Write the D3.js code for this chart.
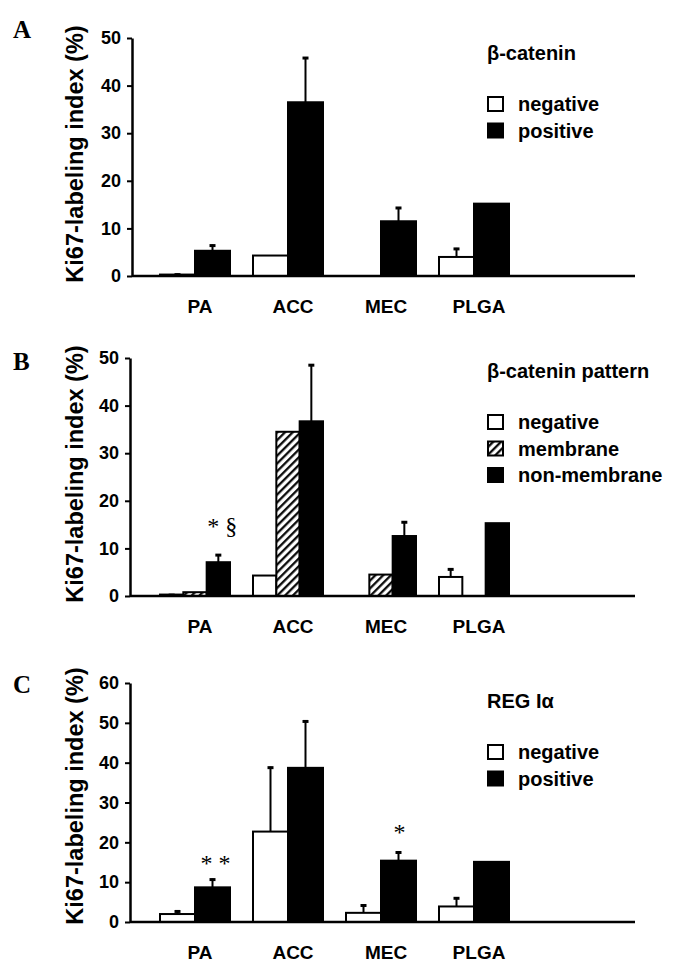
<!DOCTYPE html>
<html>
<head>
<meta charset="utf-8">
<script src="https://cdn.jsdelivr.net/npm/d3@7"></script>
<style>
  html, body { margin: 0; padding: 0; background: #fff; }
  svg { display: block; }
  text { font-family: "Liberation Sans", Arial, sans-serif; font-weight: bold; fill: #000; }
</style>
</head>
<body>
<svg id="chart" width="688" height="964"></svg>
<script>
// ---------- DATA ----------
const categories = ["PA", "ACC", "MEC", "PLGA"];

// Panel A: beta-catenin
const aTicks = [0, 10, 20, 30, 40, 50];
const aNegative = [0.3, 4.3, 0, 4.0];
const aNegativeErr = [0.2, 0, 0, 1.9];
const aPositive = [5.3, 36.5, 11.5, 15.2];
const aPositiveErr = [1.3, 9.5, 3.0, 0];

// Panel B: beta-catenin pattern
const bTicks = [0, 10, 20, 30, 40, 50];
const bNegative = [0.3, 4.3, 0, 4.0];
const bNegativeErr = [0.1, 0, 0, 1.8];
const bMembrane = [0.8, 34.5, 4.5, 0];
const bMembraneErr = [0, 0, 0, 0];
const bNonMembrane = [7.1, 36.7, 12.6, 15.3];
const bNonMembraneErr = [1.7, 12.0, 3.1, 0];

// Panel C: REG I alpha
const cTicks = [0, 10, 20, 30, 40, 50, 60];
const cNegative = [2.0, 22.7, 2.3, 3.9];
const cNegativeErr = [0.9, 16.3, 2.1, 2.3];
const cPositive = [8.7, 38.7, 15.4, 15.1];
const cPositiveErr = [2.2, 11.9, 2.3, 0];

const yLabel = "Ki67-labeling index (%)";

// ---------- DRAW ----------
const svg = d3.select("#chart");
const defs = svg.append("defs");
const pat = defs.append("pattern")
  .attr("id", "hatch")
  .attr("patternUnits", "userSpaceOnUse")
  .attr("width", 5.5).attr("height", 5.5)
  .attr("patternTransform", "rotate(45)");
pat.append("rect").attr("width", 5.5).attr("height", 5.5).attr("fill", "#fff");
pat.append("line").attr("x1", 1.2).attr("y1", 0).attr("x2", 1.2).attr("y2", 5.5)
  .attr("stroke", "#000").attr("stroke-width", 2.2);

const fills = { white: "#fff", black: "#000", hatch: "url(#hatch)" };

function drawPanel(p) {
  const g = svg.append("g");
  const y = d3.scaleLinear().domain([0, p.ticks[p.ticks.length - 1]]).range([p.y0, p.yTop]);
  const x0 = d3.scaleBand().domain(categories).range([160, 160 + 4 * 93 - 23])
    .paddingInner(23 / 93).paddingOuter(0);
  const x1 = d3.scaleBand().domain(p.series.map(s => s.name)).range([0, x0.bandwidth()]);

  // bars
  p.series.forEach(s => {
    categories.forEach((c, i) => {
      const v = s.values[i];
      if (v <= 0) return;
      const bx = x0(c) + x1(s.name);
      g.append("rect")
        .attr("x", bx).attr("y", y(v))
        .attr("width", x1.bandwidth()).attr("height", y(0) - y(v))
        .attr("fill", fills[s.fill]).attr("stroke", "#000").attr("stroke-width", 2);
      const e = s.err[i];
      if (e > 0) {
        const cx = bx + x1.bandwidth() / 2;
        g.append("line").attr("x1", cx).attr("x2", cx).attr("y1", y(v)).attr("y2", y(v + e))
          .attr("stroke", "#000").attr("stroke-width", 2);
        g.append("line").attr("x1", cx - 3).attr("x2", cx + 3).attr("y1", y(v + e) + 1).attr("y2", y(v + e) + 1)
          .attr("stroke", "#000").attr("stroke-width", 3);
      }
    });
  });

  // y axis
  const ax = g.append("g").attr("transform", `translate(${p.axisX},0)`)
    .call(d3.axisLeft(y).tickValues(p.ticks).tickSize(5).tickPadding(6).tickSizeOuter(0));
  ax.select(".domain").attr("stroke", "#000").attr("stroke-width", 2.5);
  ax.selectAll(".tick line").attr("stroke", "#000").attr("stroke-width", 2);
  ax.selectAll(".tick text").style("font-size", "18px").style("font-family", "'Liberation Sans', Arial, sans-serif")
    .style("font-weight", "bold").attr("fill", "#000");

  // baseline
  g.append("line").attr("x1", p.axisX).attr("x2", 635).attr("y1", y(0)).attr("y2", y(0))
    .attr("stroke", "#000").attr("stroke-width", 2.5);

  // category labels
  categories.forEach(c => {
    g.append("text").attr("x", x0(c) + x0.bandwidth() / 2 + 5).attr("y", y(0) + 37)
      .attr("text-anchor", "middle").style("font-size", "19px").text(c);
  });

  // y label
  g.append("text")
    .attr("transform", `translate(83,${p.labelY}) rotate(-90)`)
    .attr("text-anchor", "middle").style("font-size", "23.5px").text(yLabel);

  // panel letter
  g.append("text").attr("x", 13).attr("y", p.letterY)
    .style("font-family", "'Liberation Serif', 'Times New Roman', serif")
    .style("font-size", "25px").text(p.letter);

  // annotations
  p.notes.forEach(n => {
    const s = p.series.find(d => d.name === n.series);
    const i = categories.indexOf(n.cat);
    const top = s.values[i] + s.err[i];
    const cx = x0(n.cat) + x1(n.series) + x1.bandwidth() / 2 + n.dx;
    g.append("text").attr("x", cx).attr("y", y(top) - n.gap)
      .attr("text-anchor", "middle")
      .style("font-family", "'Liberation Serif', 'Times New Roman', serif")
      .style("font-weight", "normal")
      .style("font-size", "24px").text(n.text);
  });

  // legend
  const lx = 487;
  g.append("text").attr("x", lx).attr("y", p.legendY).style("font-size", "20px").text(p.title);
  p.series.forEach((s, k) => {
    const ry = p.legendY + 37 + k * 26.5;
    g.append("rect").attr("x", lx + 1).attr("y", ry).attr("width", 15).attr("height", 14)
      .attr("fill", fills[s.fill]).attr("stroke", "#000").attr("stroke-width", 2);
    g.append("text").attr("x", lx + 31).attr("y", ry + 14).style("font-size", "20px").text(s.name);
  });
}

drawPanel({
  letter: "A", letterY: 38, axisX: 132, y0: 276, yTop: 38, labelY: 154,
  ticks: aTicks, title: "β-catenin", legendY: 60,
  series: [
    { name: "negative", values: aNegative, err: aNegativeErr, fill: "white" },
    { name: "positive", values: aPositive, err: aPositiveErr, fill: "black" }
  ],
  notes: []
});

drawPanel({
  letter: "B", letterY: 370, axisX: 130, y0: 596, yTop: 358, labelY: 474,
  ticks: bTicks, title: "β-catenin pattern", legendY: 378,
  series: [
    { name: "negative", values: bNegative, err: bNegativeErr, fill: "white" },
    { name: "membrane", values: bMembrane, err: bMembraneErr, fill: "hatch" },
    { name: "non-membrane", values: bNonMembrane, err: bNonMembraneErr, fill: "black" }
  ],
  notes: [{ cat: "PA", series: "non-membrane", text: "* §", dx: 4, gap: 20 }]
});

drawPanel({
  letter: "C", letterY: 693, axisX: 130, y0: 922, yTop: 683, labelY: 796,
  ticks: cTicks, title: "REG Iα", legendY: 708,
  series: [
    { name: "negative", values: cNegative, err: cNegativeErr, fill: "white" },
    { name: "positive", values: cPositive, err: cPositiveErr, fill: "black" }
  ],
  notes: [
    { cat: "PA", series: "positive", text: "* *", dx: 3, gap: 8 },
    { cat: "MEC", series: "positive", text: "*", dx: 1, gap: 11 }
  ]
});
</script>
</body>
</html>
